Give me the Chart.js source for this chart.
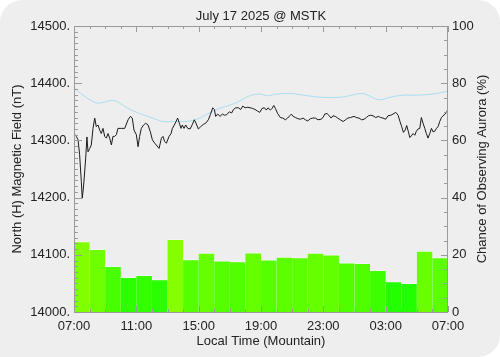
<!DOCTYPE html>
<html>
<head>
<meta charset="utf-8">
<script src="https://cdn.jsdelivr.net/npm/chart.js@4.4.1/dist/chart.umd.min.js"></script>
<style>
    html, body { margin: 0; padding: 0; background: #ffffff; }
    #card {
        width: 500px; height: 357px;
        background: #eeeeee;
        border-radius: 22px 22px 22px 0;
        overflow: hidden;
    }
    canvas { display: block; }
</style>
</head>
<body>
<div id="card"><canvas id="chart" width="500" height="357"></canvas></div>
<script>
// hours since 07:00 local time
const timeLabels = ['07:00', '11:00', '15:00', '19:00', '23:00', '03:00', '07:00'];

// hourly chance of observing aurora (%)
const auroraChance = [24.6, 21.9, 16.0, 12.1, 12.8, 11.3, 25.4, 18.3, 20.6, 17.9, 17.6, 20.7,
                      18.2, 19.2, 19.0, 20.6, 20.0, 17.2, 17.0, 14.6, 10.6, 10.0, 21.3, 19.0];

// measured north (H) field
const magHours = [0.00, 0.15, 0.26, 0.36, 0.47, 0.53, 0.62, 0.75, 0.83, 0.90, 1.01, 1.11, 1.22, 1.33, 1.43,
    1.54, 1.65, 1.75, 1.86, 1.97, 2.08, 2.18, 2.29, 2.40, 2.50, 2.61, 2.72, 2.82, 3.04, 3.25, 3.47, 3.62,
    3.74, 3.85, 4.00, 4.11, 4.21, 4.32, 4.47, 4.60, 4.75, 4.90, 5.03, 5.18, 5.28, 5.46, 5.61, 5.71, 5.82,
    5.93, 6.10, 6.23, 6.31, 6.44, 6.55, 6.65, 6.76, 6.87, 6.95, 7.06, 7.17, 7.30, 7.45, 7.60, 7.72, 7.83,
    7.98, 8.13, 8.30, 8.45, 8.62, 8.75, 8.90, 9.01, 9.09, 9.22, 9.37, 9.52, 9.65, 9.80, 9.97, 10.12, 10.23,
    10.38, 10.55, 10.70, 10.83, 10.98, 11.15, 11.30, 11.45, 11.62, 11.79, 11.92, 12.07, 12.22, 12.34, 12.45,
    12.60, 12.71, 12.82, 12.92, 13.07, 13.24, 13.41, 13.56, 13.71, 13.84, 13.95, 14.06, 14.21, 14.36, 14.53,
    14.70, 14.85, 15.00, 15.17, 15.32, 15.49, 15.66, 15.85, 15.98, 16.09, 16.24, 16.35, 16.50, 16.62, 16.77,
    16.92, 17.09, 17.27, 17.42, 17.57, 17.74, 17.97, 18.12, 18.29, 18.46, 18.61, 18.76, 18.89, 19.04, 19.19,
    19.36, 19.53, 19.68, 19.83, 20.00, 20.15, 20.33, 20.47, 20.65, 20.80, 20.92, 21.03, 21.14, 21.25, 21.35,
    21.46, 21.55, 21.65, 21.76, 21.87, 21.97, 22.08, 22.19, 22.29, 22.40, 22.51, 22.61, 22.72, 22.83, 22.94,
    23.04, 23.15, 23.26, 23.36, 23.47, 23.58, 23.68, 23.81, 23.92, 24.00];
const magNT = [14312, 14307, 14301, 14275, 14228, 14199, 14222, 14269, 14306, 14280, 14286, 14292, 14321, 14339, 14324,
    14327, 14318, 14312, 14321, 14307, 14304, 14312, 14304, 14292, 14307, 14307, 14310, 14321, 14321, 14321, 14336, 14342,
    14339, 14318, 14310, 14289, 14307, 14321, 14327, 14330, 14327, 14315, 14301, 14295, 14292, 14286, 14304, 14307, 14298,
    14295, 14307, 14312, 14321, 14327, 14333, 14339, 14330, 14321, 14327, 14321, 14327, 14321, 14320, 14328, 14336, 14330,
    14320, 14324, 14328, 14330, 14336, 14345, 14357, 14354, 14342, 14346, 14342, 14346, 14344, 14345, 14350, 14348, 14354,
    14357, 14357, 14354, 14360, 14357, 14358, 14357, 14356, 14354, 14351, 14349, 14356, 14357, 14353, 14357,
    14353, 14356, 14361, 14356, 14347, 14340, 14339, 14336, 14339, 14343, 14346, 14342, 14340, 14338, 14337,
    14339, 14336, 14334, 14338, 14339, 14339, 14336, 14337, 14340, 14346, 14347, 14344, 14339, 14343, 14342,
    14339, 14336, 14333, 14336, 14339, 14340, 14342, 14340, 14339, 14336, 14337, 14340, 14343, 14344, 14343,
    14340, 14342, 14340, 14339, 14337, 14343, 14344, 14346, 14349, 14344, 14333, 14324, 14314, 14318, 14326,
    14315, 14305, 14308, 14312, 14309, 14316, 14320, 14321, 14340, 14330, 14321, 14312, 14304, 14312, 14321,
    14315, 14316, 14321, 14324, 14333, 14340, 14343, 14346, 14349, 14356];

// quiet-day baseline
const baseHours = [0, 0.58, 1.22, 1.54, 1.97, 2.50, 2.93, 3.47, 4.21, 5.07, 5.71, 6.48, 7.12, 7.77, 8.41, 9.05,
    9.69, 10.33, 10.97, 11.40, 11.94, 12.39, 13.03, 13.88, 14.74, 15.60, 16.45, 17.31, 17.65, 18.51, 18.93,
    19.58, 20.22, 21.07, 21.93, 23.00, 24.00];
const baseNT = [14392, 14379, 14368, 14365, 14367, 14370, 14365, 14356, 14347, 14339, 14333, 14333, 14333, 14336,
    14344, 14353, 14359, 14365, 14374, 14379, 14381, 14378, 14381, 14382, 14379, 14376, 14375, 14376, 14378,
    14382, 14378, 14371, 14375, 14379, 14379, 14381, 14386];

const FONT = 'Liberation Sans, Helvetica, Arial, sans-serif';
const TEXT = '#222222';
const FRAME = '#9a9a9a';

function barColor(v) {
    const r = Math.max(0, Math.min(255, Math.round((v - 5) * 6.5)));
    return `rgb(${r}, 255, 0)`;
}

// frame, inward ticks on all four sides, title and right axis title
const frameTicks = {
    id: 'frameTicks',
    afterDatasetsDraw(chart) {
        const { ctx, chartArea: a, scales } = chart;
        ctx.save();
        ctx.strokeStyle = FRAME;
        ctx.lineWidth = 1;
        ctx.strokeRect(a.left + 0.5, a.top + 0.5, a.right - a.left - 1, a.bottom - a.top);
        ctx.beginPath();
        for (let h = 0; h <= 24; h++) {
            const x = Math.round(scales.x.getPixelForValue(h)) + 0.5;
            const len = h % 4 === 0 ? 6 : 3;
            ctx.moveTo(x, a.top); ctx.lineTo(x, a.top + len);
            ctx.moveTo(x, a.bottom); ctx.lineTo(x, a.bottom - len);
        }
        for (let v = 14000; v <= 14500; v += 10) {
            const y = Math.round(scales.y.getPixelForValue(v)) + 0.5;
            const len = v % 100 === 0 ? 8 : 4;
            ctx.moveTo(a.left, y); ctx.lineTo(a.left + len, y);
        }
        for (let v = 0; v <= 100; v += 5) {
            const y = Math.round(scales.y2.getPixelForValue(v)) + 0.5;
            const len = v % 20 === 0 ? 7 : 4;
            ctx.moveTo(a.right, y); ctx.lineTo(a.right - len, y);
        }
        ctx.stroke();

        ctx.fillStyle = TEXT;
        ctx.font = '13px ' + FONT;
        ctx.textAlign = 'center';
        ctx.textBaseline = 'middle';
        ctx.fillText('July 17 2025 @ MSTK', (a.left + a.right) / 2, 16);

        ctx.translate(482, (a.top + a.bottom) / 2);
        ctx.rotate(-Math.PI / 2);
        ctx.fillText('Chance of Observing Aurora (%)', 0, 0);
        ctx.restore();
    }
};

const ctx = document.getElementById('chart').getContext('2d');
const myChart = new Chart(ctx, {
    type: 'line',
    data: {
        datasets: [
            {
                type: 'line',
                label: 'H field',
                data: magHours.map((h, i) => ({ x: h, y: magNT[i] })),
                borderColor: '#1a1a1a',
                borderWidth: 1,
                pointRadius: 0,
                tension: 0,
                yAxisID: 'y',
                order: 1
            },
            {
                type: 'line',
                label: 'Baseline',
                data: baseHours.map((h, i) => ({ x: h, y: baseNT[i] })),
                borderColor: '#a6def2',
                borderWidth: 1,
                pointRadius: 0,
                tension: 0.4,
                yAxisID: 'y',
                order: 2
            },
            {
                type: 'bar',
                label: 'Aurora chance',
                data: auroraChance.map((v, i) => ({ x: i + 0.5, y: v })),
                backgroundColor: auroraChance.map(barColor),
                borderColor: 'rgba(255, 255, 255, 0.35)',
                borderWidth: { top: 1, left: 0, right: 0, bottom: 0 },
                barPercentage: 1,
                categoryPercentage: 1,
                yAxisID: 'y2',
                order: 3
            }
        ]
    },
    options: {
        responsive: false,
        animation: false,
        layout: { padding: { top: 26, left: 0, right: 0, bottom: 0 } },
        plugins: {
            legend: { display: false },
            tooltip: { enabled: false }
        },
        scales: {
            x: {
                type: 'linear',
                min: 0,
                max: 24,
                offset: false,
                grid: { display: false, drawTicks: false },
                border: { display: false },
                ticks: {
                    stepSize: 4,
                    autoSkip: false,
                    maxRotation: 0,
                    padding: 7,
                    color: TEXT,
                    font: { family: FONT, size: 13 },
                    callback: (v) => timeLabels[v / 4]
                },
                title: {
                    display: true,
                    text: 'Local Time (Mountain)',
                    color: TEXT,
                    font: { family: FONT, size: 13 },
                    padding: { top: 0, bottom: 8 }
                },
                afterFit: (scale) => { scale.height = 45; }
            },
            y: {
                position: 'left',
                min: 14000,
                max: 14500,
                grid: { display: false, drawTicks: false },
                border: { display: false },
                ticks: {
                    stepSize: 100,
                    padding: 4,
                    color: TEXT,
                    font: { family: FONT, size: 13 },
                    callback: (v) => v + '.'
                },
                title: {
                    display: true,
                    text: 'North (H) Magnetic Field (nT)',
                    color: TEXT,
                    font: { family: FONT, size: 13 },
                    padding: { top: 10, bottom: 0 }
                },
                afterFit: (scale) => { scale.width = 74; }
            },
            y2: {
                position: 'right',
                min: 0,
                max: 100,
                grid: { display: false, drawTicks: false },
                border: { display: false },
                ticks: {
                    stepSize: 20,
                    padding: 4,
                    color: TEXT,
                    font: { family: FONT, size: 13 }
                },
                afterFit: (scale) => { scale.width = 52; }
            }
        }
    },
    plugins: [frameTicks]
});
</script>
</body>
</html>
